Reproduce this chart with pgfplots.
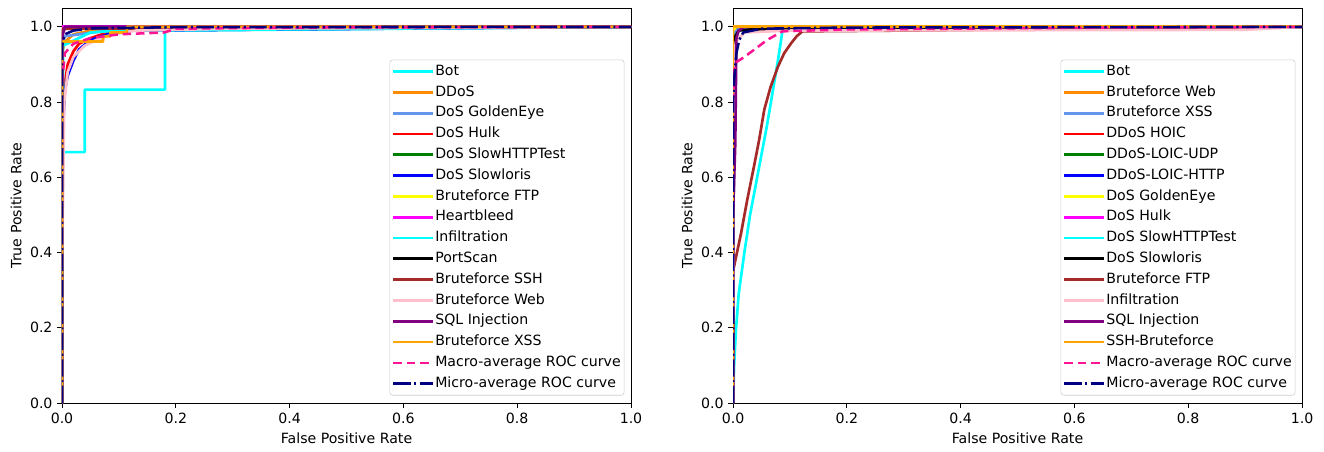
\documentclass[border=0pt]{standalone}
\usepackage{fontspec}
\setmainfont{DejaVu Sans}
\usepackage{pgfplots}
\pgfplotsset{compat=1.18}
\definecolor{mcyan}{rgb}{0,1,1}
\definecolor{mdarkorange}{rgb}{1,0.549,0}
\definecolor{mcorn}{rgb}{0.392,0.584,0.929}
\definecolor{mred}{rgb}{1,0,0}
\definecolor{mgreen}{rgb}{0,0.5,0}
\definecolor{mblue}{rgb}{0,0,1}
\definecolor{myellow}{rgb}{1,1,0}
\definecolor{mmagenta}{rgb}{1,0,1}
\definecolor{mbrown}{rgb}{0.647,0.165,0.165}
\definecolor{mpink}{rgb}{1,0.753,0.796}
\definecolor{mpurple}{rgb}{0.5,0,0.5}
\definecolor{morange}{rgb}{1,0.647,0}
\definecolor{mdeeppink}{rgb}{1,0.078,0.576}
\definecolor{mnavy}{rgb}{0,0,0.5}
\pgfplotsset{
  rocax/.style={
    scale only axis, width=426.75pt, height=296.25pt,
    xmin=0, xmax=1, ymin=0, ymax=1.05,
    xtick={0,0.2,0.4,0.6,0.8,1.0}, ytick={0,0.2,0.4,0.6,0.8,1.0},
    xticklabel style={/pgf/number format/.cd,fixed,fixed zerofill,precision=1},
    yticklabel style={/pgf/number format/.cd,fixed,fixed zerofill,precision=1},
    /pgf/number format/assume math mode=true,
    tick align=outside, xtick pos=bottom, ytick pos=left,
    major tick length=3.6pt, tick style={black, line width=0.6pt},
    axis line style={line width=0.6pt},
    font=\fontsize{10.6}{12.7}\selectfont,
    ticklabel style={font=\fontsize{10.6}{12.7}\selectfont},
    xlabel={False Positive Rate}, ylabel={True Positive Rate},
    xlabel style={yshift=0pt}, ylabel style={yshift=-0.5pt},
    legend cell align=left,
    legend image code/.code={\draw[#1] (0pt,0pt) -- (23.5pt,0pt); \path (0pt,0pt) -- (29.5pt,0pt);},
    legend style={at={(rel axis cs:0.9882,0.019)}, anchor=south east,
      draw=black!20, rounded corners=2pt, fill=white, fill opacity=0.8, text opacity=1,
      font=\fontsize{10.6}{12.7}\selectfont,
      inner xsep=1.5pt, inner ysep=2.6pt, row sep=3.3pt,
      nodes={inner sep=1pt, text height=8pt, text depth=2.3pt}},
    every axis plot/.append style={line width=2pt, line join=round},
    macro/.style={mdeeppink, line width=1.9pt, dash pattern=on 6.4pt off 3.6pt},
    micro/.style={mnavy, line width=1.9pt, dash pattern=on 13pt off 2.6pt on 1.6pt off 2.6pt},
  }
}
\begin{document}
\begin{tikzpicture}
\begin{axis}[rocax, name=L, at={(0pt,0pt)}, anchor=south west]
\addplot[mcyan] coordinates {(0,0)(0,0.667)(0.04,0.667)(0.04,0.833)(0.181,0.833)(0.181,0.99)(1,1)};
\addlegendentry{Bot}
\addplot[mdarkorange] coordinates {(0,0)(0,0.93)(0.005,0.96)(0.02,0.98)(0.05,0.99)(0.1,0.995)(1,1)};
\addlegendentry{DDoS}
\addplot[mcorn] coordinates {(0,0)(0,0.95)(0.005,0.975)(0.03,0.98)(0.08,0.99)(0.15,0.995)(1,1)};
\addlegendentry{DoS GoldenEye}
\addplot[mred] coordinates {(0,0)(0.001,0.75)(0.005,0.85)(0.01,0.9)(0.02,0.935)(0.03,0.955)(0.05,0.97)(0.07,0.98)(0.1,0.99)(0.2,0.997)(1,1)};
\addlegendentry{DoS Hulk}
\addplot[mgreen] coordinates {(0,0)(0,0.99)(0.01,1)(1,1)};
\addlegendentry{DoS SlowHTTPTest}
\addplot[mblue] coordinates {(0,0)(0.001,0.7)(0.005,0.83)(0.01,0.87)(0.02,0.91)(0.03,0.94)(0.05,0.965)(0.08,0.98)(0.12,0.99)(1,1)};
\addlegendentry{DoS Slowloris}
\addplot[myellow] coordinates {(0,0)(0,1)(1,1)};
\addlegendentry{Bruteforce FTP}
\addplot[mmagenta] coordinates {(0,0)(0,1)(1,1)};
\addlegendentry{Heartbleed}
\addplot[mcyan] coordinates {(0,0)(0.002,0.95)(0.05,0.985)(0.1,0.99)(1,1)};
\addlegendentry{Infiltration}
\addplot[black] coordinates {(0,0)(0,0.99)(0.01,0.998)(1,1)};
\addlegendentry{PortScan}
\addplot[mbrown] coordinates {(0,0)(0,0.995)(1,1)};
\addlegendentry{Bruteforce SSH}
\addplot[mpink] coordinates {(0,0)(0,0.33)(0.004,0.8)(0.01,0.88)(0.02,0.92)(0.04,0.95)(0.06,0.965)(0.09,0.98)(0.13,0.99)(0.3,0.995)(1,1)};
\addlegendentry{Bruteforce Web}
\addplot[mpurple] coordinates {(0,0)(0,0.97)(0.005,1)(1,1)};
\addlegendentry{SQL Injection}
\addplot[morange] coordinates {(0,0)(0,0.955)(0.002,0.961)(0.072,0.961)(0.072,0.975)(0.085,0.975)(0.085,0.985)(0.114,0.985)(0.114,1)(1,1)};
\addlegendentry{Bruteforce XSS}
\addplot[macro] coordinates {(0,0.85)(0.005,0.93)(0.02,0.955)(0.05,0.97)(0.1,0.98)(0.18,0.985)(0.2,0.995)(0.4,0.998)(1,1)};
\addlegendentry{Macro-average ROC curve\hspace{4.5pt}}
\addplot[micro] coordinates {(0,0)(0,0.95)(0.005,0.98)(0.02,0.99)(0.05,0.996)(0.2,0.999)(1,1)};
\addlegendentry{Micro-average ROC curve}
\end{axis}
\begin{axis}[rocax, name=R, at={(503.25pt,0pt)}, anchor=south west]
\addplot[mcyan] coordinates {(0,0)(0.002,0.1)(0.005,0.19)(0.01,0.29)(0.02,0.4)(0.03,0.5)(0.04,0.58)(0.05,0.66)(0.06,0.74)(0.07,0.83)(0.08,0.92)(0.087,0.99)(0.2,0.995)(1,1)};
\addlegendentry{Bot}
\addplot[mdarkorange] coordinates {(0,0)(0,0.99)(0.01,1)(1,1)};
\addlegendentry{Bruteforce Web}
\addplot[mcorn] coordinates {(0,0)(0,0.98)(0.01,0.995)(1,1)};
\addlegendentry{Bruteforce XSS}
\addplot[mred] coordinates {(0,0)(0,1)(1,1)};
\addlegendentry{DDoS HOIC}
\addplot[mgreen] coordinates {(0,0)(0,1)(1,1)};
\addlegendentry{DDoS-LOIC-UDP}
\addplot[mblue] coordinates {(0,0)(0,0.995)(0.005,1)(1,1)};
\addlegendentry{DDoS-LOIC-HTTP}
\addplot[myellow] coordinates {(0,0)(0,0.99)(0.005,1)(1,1)};
\addlegendentry{DoS GoldenEye}
\addplot[mmagenta] coordinates {(0,0)(0,1)(1,1)};
\addlegendentry{DoS Hulk}
\addplot[mcyan] coordinates {(0,0)(0,1)(1,1)};
\addlegendentry{DoS SlowHTTPTest}
\addplot[black] coordinates {(0,0)(0.002,0.97)(0.01,0.99)(0.03,0.993)(0.5,0.994)(0.66,0.995)(0.67,1)(1,1)};
\addlegendentry{DoS Slowloris}
\addplot[mbrown] coordinates {(0,0)(0,0.35)(0.014,0.45)(0.025,0.54)(0.037,0.63)(0.046,0.7)(0.055,0.78)(0.066,0.84)(0.079,0.894)(0.09,0.93)(0.102,0.956)(0.112,0.975)(0.122,0.988)(0.3,0.99)(1,1)};
\addlegendentry{Bruteforce FTP}
\addplot[mpink] coordinates {(0,0)(0.001,0.9)(0.005,0.96)(0.02,0.985)(0.1,0.99)(0.9,0.992)(1,1)};
\addlegendentry{Infiltration}
\addplot[mpurple] coordinates {(0,0)(0,0.5)(0.004,0.69)(0.006,0.97)(0.01,0.99)(0.02,1)(1,1)};
\addlegendentry{SQL Injection}
\addplot[morange] coordinates {(0,0)(0,1)(1,1)};
\addlegendentry{SSH-Bruteforce}
\addplot[macro] coordinates {(0,0.8)(0.002,0.88)(0.005,0.905)(0.02,0.92)(0.037,0.939)(0.06,0.965)(0.087,0.988)(0.2,0.993)(0.67,0.998)(1,1)};
\addlegendentry{Macro-average ROC curve\hspace{4.5pt}}
\addplot[micro] coordinates {(0,0)(0,0.8)(0.002,0.86)(0.006,0.93)(0.011,0.965)(0.018,0.985)(0.05,0.995)(0.2,0.998)(1,1)};
\addlegendentry{Micro-average ROC curve}
\end{axis}
\path[use as bounding box] (-46.5pt,-36pt) rectangle (946.5pt,302.25pt);
\end{tikzpicture}
\end{document}
